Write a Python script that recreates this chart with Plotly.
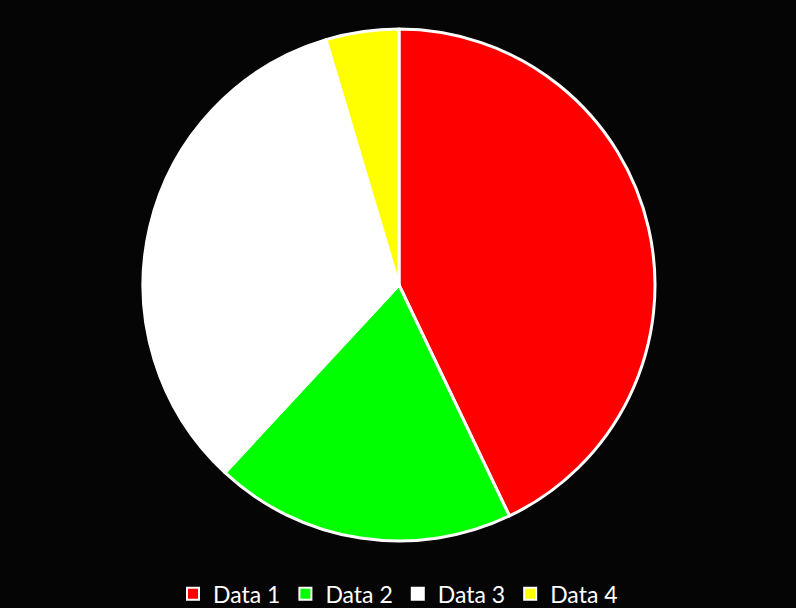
import plotly.graph_objects as go

labels = ["Data 1", "Data 2", "Data 3", "Data 4"]
values = [42.9, 19.0, 33.5, 4.6]
colors = ["#FF0000", "#00FF00", "#FFFFFF", "#FFFF00"]

W, H = 796, 608
fig = go.Figure(go.Pie(
    labels=labels, values=values, sort=False, direction="clockwise", rotation=0,
    marker=dict(colors=colors, line=dict(color="white", width=3)),
    textinfo="none", hoverinfo="label+value",
    domain=dict(x=[143 / W, 655 / W], y=[1 - 541 / H, 1 - 29 / H]),
))
fig.update_layout(
    width=W, height=H, margin=dict(l=0, r=0, t=0, b=0, autoexpand=False),
    paper_bgcolor="#050505", plot_bgcolor="#050505",
    showlegend=True,
    legend=dict(orientation="h", x=0.5, xanchor="center", y=-0.012, yanchor="bottom",
                font=dict(family="Lato, Open Sans, sans-serif", size=23, color="white"),
                itemsizing="constant", traceorder="normal", itemwidth=30),
)
fig.write_html("out.html")
